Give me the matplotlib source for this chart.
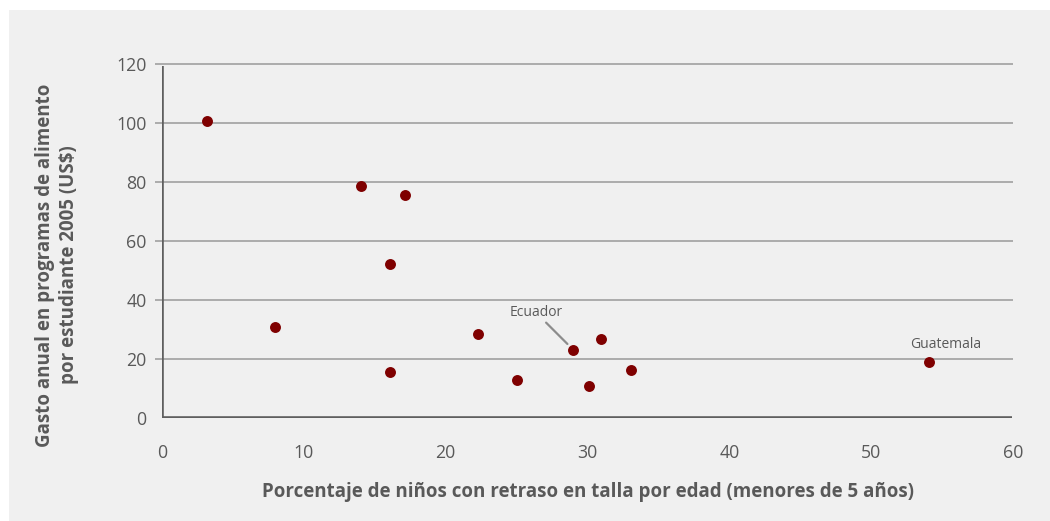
import numpy as np
import matplotlib.pyplot as plt
from matplotlib.patches import Rectangle

# Datos
retraso_talla = [3.15, 8.0, 14.0, 17.1, 16.1, 16.1, 22.25, 25.05, 29.0, 30.95, 30.1, 33.1, 54.1]
gasto_alimento = [100.7, 30.7, 78.5, 75.5, 52.1, 15.6, 28.5, 12.8, 23.1, 26.7, 11.0, 16.2, 18.9]
paises = ['', '', '', '', '', '', '', '', 'Ecuador', '', '', '', 'Guatemala']
x_ticks = [0, 10, 20, 30, 40, 50, 60]
y_ticks = [0, 20, 40, 60, 80, 100, 120]

plt.rcParams['font.family'] = ['Open Sans', 'DejaVu Sans']
gris_texto = '#595959'
fondo = '#f0f0f0'

fig = plt.figure(figsize=(10.5, 5.21), dpi=100)
fig.patch.set_facecolor('white')
fig.patches.append(Rectangle((9 / 1050, 0), 1, 1 - 10 / 521, transform=fig.transFigure,
                             facecolor=fondo, edgecolor='none', zorder=-10))

ax = fig.add_axes([162 / 1050, 103 / 521, 851 / 1050, 354 / 521])
ax.set_facecolor('none')
ax.set_xlim(0, 60)
ax.set_ylim(0, 120)

# Lineas de cuadricula (se extienden un poco a la izquierda del eje)
for y in y_ticks[1:]:
    ax.hlines(y, -0.5, 60, color='#a6a6a6', lw=1.3, clip_on=False, zorder=1)

# Ejes
for s in ax.spines.values():
    s.set_visible(False)
ax.vlines(0, 0, 119.3, color='#5f5f5f', lw=2.6, zorder=2)
ax.hlines(0, 0, 59.9, color='#5f5f5f', lw=2.6, zorder=2)

ax.scatter(retraso_talla, gasto_alimento, s=62, color='#7f0000', zorder=3, linewidths=0)

ax.set_xticks(x_ticks)
ax.set_yticks(y_ticks)
ax.tick_params(length=0, labelsize=12.8, labelcolor=gris_texto)
ax.tick_params(axis='x', pad=19)
ax.tick_params(axis='y', pad=11)

# Etiquetas de paises
for x, y, p in zip(retraso_talla, gasto_alimento, paises):
    if p == 'Ecuador':
        ax.annotate(p, xy=(x, y), xytext=(-27, 27), textcoords='offset points',
                    ha='center', va='center', fontsize=10, color=gris_texto,
                    arrowprops=dict(arrowstyle='-', color='#8c8c8c', lw=1.6,
                                    shrinkA=0, shrinkB=6))
    elif p == 'Guatemala':
        ax.annotate(p, xy=(x, y), xytext=(12, 13), textcoords='offset points',
                    ha='center', va='center', fontsize=10, color=gris_texto)

ax.set_xlabel('Porcentaje de niños con retraso en talla por edad (menores de 5 años)',
              fontsize=13.5, fontweight='bold', color=gris_texto, labelpad=14)
fig.text(57 / 1050, 1 - 265 / 521, 'Gasto anual en programas de alimento\npor estudiante 2005 (US$)',
         rotation=90, ha='center', va='center', multialignment='center',
         fontsize=13.5, fontweight='bold', color=gris_texto, linespacing=1.3)

plt.savefig('out.png', dpi=100)
